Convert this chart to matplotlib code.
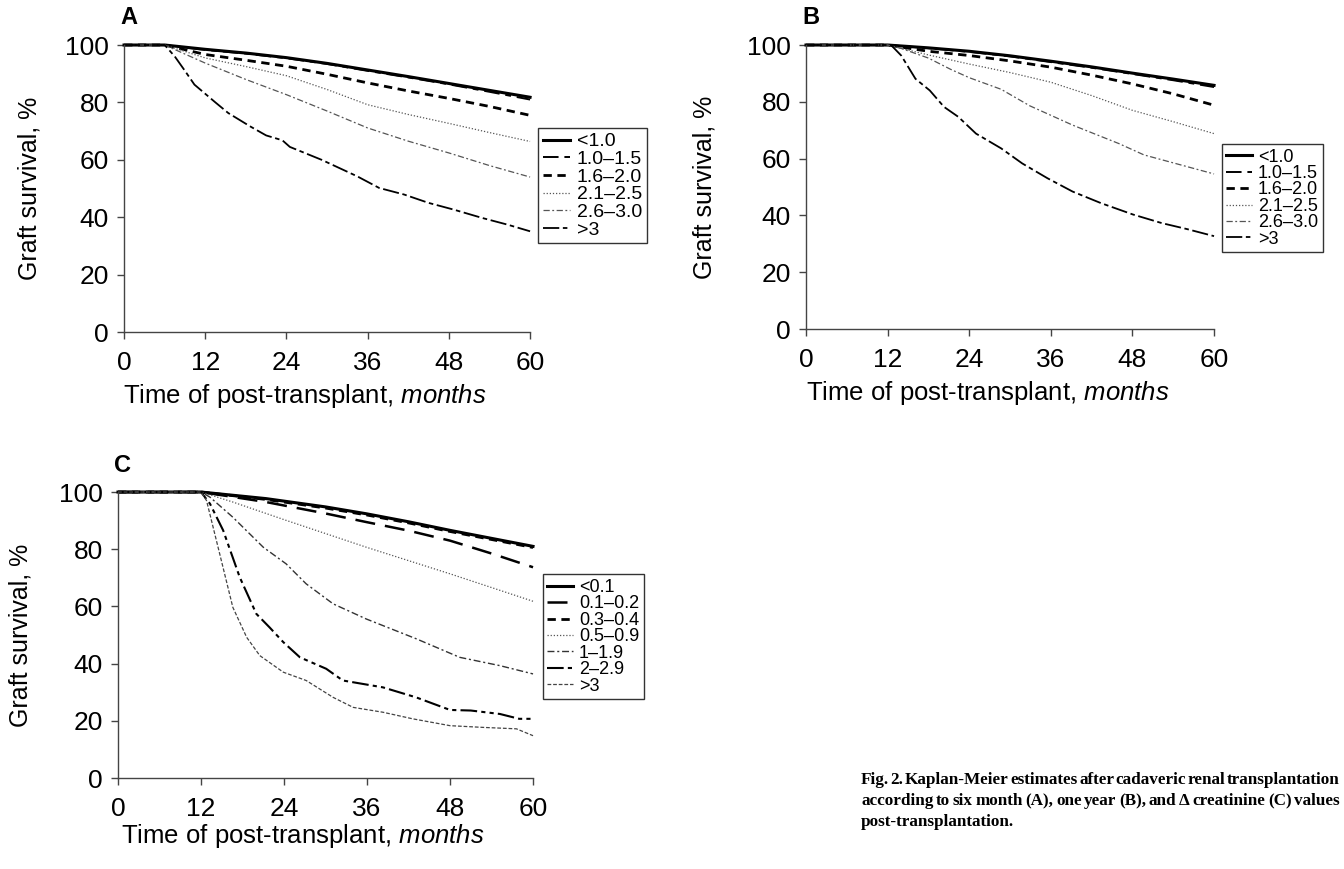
import matplotlib
matplotlib.use('Agg')
import matplotlib.pyplot as plt

plt.rcParams['font.family'] = ['Liberation Sans', 'DejaVu Sans']
plt.rcParams['mathtext.fontset'] = 'custom'
plt.rcParams['mathtext.rm'] = 'Liberation Sans'
plt.rcParams['mathtext.it'] = 'Liberation Sans:italic'

# ---- Panel A: six month creatinine ----
labels_a = ['<1.0', '1.0\u20131.5', '1.6\u20132.0', '2.1\u20132.5', '2.6\u20133.0', '>3']
t_a = [0, 6, 12, 18, 24, 30, 36, 42, 48, 54, 60]
a_lt10 = [100, 100, 98.5, 97.2, 95.6, 93.6, 91.3, 89.0, 86.6, 84.2, 81.8]
a_10_15 = [100, 100, 98.3, 97.0, 95.4, 93.4, 91.0, 88.7, 86.3, 83.7, 81.0]
a_16_20 = [100, 100, 96.7, 94.7, 92.6, 89.8, 86.8, 84.0, 81.4, 78.6, 75.5]
a_21_25 = [100, 100, 95.5, 92.5, 89.3, 84.5, 79.2, 75.8, 72.7, 69.5, 66.4]
a_26_30 = [100, 100, 93.7, 88.0, 82.7, 77.0, 71.1, 66.5, 62.4, 58.0, 54.0]
t_a_gt3 = [0, 6, 7.5, 9, 10.4, 12, 13.5, 15.4, 18.6, 21, 23.4, 24.5, 29.2, 34.5, 37.7,
           41.4, 45, 48.8, 53, 56.7, 60]
a_gt3 = [100, 100, 96, 91, 86.2, 83, 80, 76.3, 71.7, 68.5, 66.8, 64.5, 60, 54.2, 50.2,
         47.9, 45, 42.6, 39.7, 37.4, 35.1]

# ---- Panel B: one year creatinine ----
labels_b = labels_a
t_b = [0, 12, 18, 24, 30, 36, 42, 48, 54, 60]
b_lt10 = [100, 100, 99.0, 97.8, 96.2, 94.3, 92.3, 90.1, 88.0, 85.8]
b_10_15 = [100, 100, 98.9, 97.6, 96.0, 94.0, 92.0, 89.8, 87.6, 85.2]
b_16_20 = [100, 100, 97.8, 96.3, 94.4, 92.2, 89.4, 86.3, 82.8, 78.8]
b_21_25 = [100, 100, 96.5, 93.3, 90.3, 86.9, 82.2, 77.0, 73.0, 68.8]
t_b_26_30 = [0, 12, 14, 18, 21.3, 24, 28.7, 32.9, 39.2, 46, 49.7, 54, 60]
b_26_30 = [100, 100, 98.8, 95.4, 91.4, 88.5, 84.4, 78.6, 71.8, 65.3, 61.3, 58.5, 54.6]
t_b_gt3 = [0, 12.5, 14, 16.1, 18.2, 20.3, 22.4, 25, 28.7, 31.8, 35.5, 39.2, 43.4, 48.1,
           52.3, 56, 60]
b_gt3 = [100, 100, 96.3, 88.1, 84, 78.2, 74.7, 68.8, 63.6, 58.3, 53.1, 48.4, 44.3, 40.3,
         37.3, 35.2, 32.7]

# ---- Panel C: delta creatinine ----
labels_c = ['<0.1', '0.1\u20130.2', '0.3\u20130.4', '0.5\u20130.9', '1\u20131.9', '2\u20132.9', '>3']
t_c = [0, 12, 21.4, 30, 35.9, 42, 48, 54, 60]
c_lt01 = [100, 100, 97.7, 94.8, 92.4, 89.6, 86.6, 83.8, 81.0]
c_01_02 = [100, 100, 96.5, 92.5, 89.5, 86.5, 83.0, 78.5, 73.7]
c_03_04 = [100, 100, 97.4, 94.4, 92.0, 89.2, 86.2, 83.4, 80.6]
t_c_05 = [0, 12, 16.6, 24.3, 35.9, 48, 60]
c_05_09 = [100, 100, 96.5, 90.1, 80.7, 71.4, 61.8]
t_c_1 = [0, 12, 13.3, 16.6, 21, 24.3, 27.2, 31.1, 35.9, 43.1, 49.4, 55.2, 60]
c_1_19 = [100, 100, 98.2, 91.2, 80.7, 74.9, 67.9, 60.9, 55.6, 48.7, 42.2, 39.3, 36.4]
t_c_2 = [0, 12, 13.3, 15.2, 17.6, 20, 21.9, 23.9, 26.3, 30.1, 32.5, 38.3, 43.1, 48, 51,
         55.2, 58, 60]
c_2_29 = [100, 100, 95.9, 86.6, 70.2, 57.4, 52.7, 47.5, 42.2, 38.2, 34.1, 31.7, 28.2,
          23.8, 23.6, 22.4, 20.7, 20.7]
t_c_3 = [0, 12, 12.8, 14.7, 16.6, 18.6, 20.5, 23.9, 27.2, 31.1, 34, 38.3, 42.6, 48, 52.8,
         57.6, 60]
c_gt3 = [100, 100, 97, 78.4, 59.7, 49.2, 42.8, 37, 34.1, 28.2, 24.7, 23, 20.7, 18.3,
         17.7, 17.2, 14.8]

# line styles (colour, width, dash pattern)
st_solid = dict(color='black', lw=2.2, ls='-')
st_longdash = dict(color='black', lw=1.4, ls=(0, (8, 3, 3, 3)))
st_shortdash = dict(color='black', lw=2.0, ls=(0, (3, 2)))
st_dot = dict(color='#555555', lw=0.9, ls=(0, (1, 1.5)))
st_dashdot = dict(color='#555555', lw=0.9, ls=(0, (5, 2, 1.5, 2)))
st_low = dict(color='black', lw=1.3, ls=(0, (9, 2, 2.5, 2)))
st_thindash = dict(color='#444444', lw=0.9, ls=(0, (3, 1.5)))
st_c_longdash = dict(color='black', lw=1.8, ls=(0, (8, 4)))
st_c_dashdot = dict(color='#333333', lw=1.0, ls=(0, (5, 2, 1.5, 2)))
st_c_dashdotdot = dict(color='black', lw=1.5, ls=(0, (8, 2, 2, 2, 2, 2)))

fig = plt.figure(figsize=(13.44, 8.69), dpi=100)


def style_axes(ax, ylab_x, xlab_y):
    ax.set_xlim(0, 60)
    ax.set_ylim(0, 100)
    ax.set_xticks([0, 12, 24, 36, 48, 60])
    ax.set_yticks([0, 20, 40, 60, 80, 100])
    for s in ['top', 'right']:
        ax.spines[s].set_visible(False)
    for s in ['left', 'bottom']:
        ax.spines[s].set_color('#444444')
        ax.spines[s].set_linewidth(1.0)
    ax.tick_params(direction='out', length=5, width=1, colors='#444444',
                   labelcolor='black', labelsize=19)
    ax.tick_params(axis='y', pad=6)
    ax.tick_params(axis='x', pad=9)
    ax.set_xlabel('Time of post-transplant, $\\mathit{months}$', fontsize=18.5)
    ax.xaxis.set_label_coords(0.445, xlab_y)
    ax.set_ylabel('Graft survival, %', fontsize=18)
    ax.yaxis.set_label_coords(ylab_x, 0.5)


def add_legend(ax, anchor, size, spacing):
    leg = ax.legend(loc='upper left', bbox_to_anchor=anchor,
                    bbox_transform=fig.transFigure, fontsize=size,
                    frameon=True, fancybox=False, framealpha=1,
                    edgecolor='#333333', borderpad=0.25, labelspacing=spacing,
                    handlelength=1.4, handletextpad=0.35, borderaxespad=0)
    leg.get_frame().set_linewidth(1.0)
    return leg


# Panel A
ax_a = fig.add_axes([0.0923, 0.6179, 0.3021, 0.3303])
ax_a.plot(t_a, a_lt10, label=labels_a[0], clip_on=False, **st_solid)
ax_a.plot(t_a, a_10_15, label=labels_a[1], clip_on=False, **st_longdash)
ax_a.plot(t_a, a_16_20, label=labels_a[2], clip_on=False, **st_shortdash)
ax_a.plot(t_a, a_21_25, label=labels_a[3], clip_on=False, **st_dot)
ax_a.plot(t_a, a_26_30, label=labels_a[4], clip_on=False, **st_dashdot)
ax_a.plot(t_a_gt3, a_gt3, label=labels_a[5], clip_on=False, **st_low)
style_axes(ax_a, -0.204, -0.175)
add_legend(ax_a, (0.4003, 0.8527), 14, 0.0)

# Panel B
ax_b = fig.add_axes([0.5997, 0.6214, 0.3036, 0.3268])
ax_b.plot(t_b, b_lt10, label=labels_b[0], clip_on=False, **st_solid)
ax_b.plot(t_b, b_10_15, label=labels_b[1], clip_on=False, **st_longdash)
ax_b.plot(t_b, b_16_20, label=labels_b[2], clip_on=False, **st_shortdash)
ax_b.plot(t_b, b_21_25, label=labels_b[3], clip_on=False, **st_dot)
ax_b.plot(t_b_26_30, b_26_30, label=labels_b[4], clip_on=False, **st_dashdot)
ax_b.plot(t_b_gt3, b_gt3, label=labels_b[5], clip_on=False, **st_low)
style_axes(ax_b, -0.22, -0.175)
add_legend(ax_b, (0.9092, 0.8343), 13, -0.03)

# Panel C
ax_c = fig.add_axes([0.0878, 0.1047, 0.3088, 0.3291])
ax_c.plot(t_c, c_lt01, label=labels_c[0], clip_on=False, **st_solid)
ax_c.plot(t_c, c_01_02, label=labels_c[1], clip_on=False, **st_c_longdash)
ax_c.plot(t_c, c_03_04, label=labels_c[2], clip_on=False, **st_shortdash)
ax_c.plot(t_c_05, c_05_09, label=labels_c[3], clip_on=False, **st_dot)
ax_c.plot(t_c_1, c_1_19, label=labels_c[4], clip_on=False, **st_c_dashdot)
ax_c.plot(t_c_2, c_2_29, label=labels_c[5], clip_on=False, **st_c_dashdotdot)
ax_c.plot(t_c_3, c_gt3, label=labels_c[6], clip_on=False, **st_thindash)
style_axes(ax_c, -0.205, -0.155)
add_legend(ax_c, (0.404, 0.3390), 13, -0.03)

# panel letters
fig.text(120 / 1344, 1 - 18 / 869, 'A', fontsize=17, fontweight='bold', va='center')
fig.text(802 / 1344, 1 - 18 / 869, 'B', fontsize=17, fontweight='bold', va='center')
fig.text(114 / 1344, 1 - 465 / 869, 'C', fontsize=17, fontweight='bold', va='center')

# caption, justified bold serif
caption_lines = [
    'Fig. 2. Kaplan-Meier estimates after cadaveric renal transplantation',
    'according to six month (A), one year (B), and \u0394 creatinine (C) values',
    'post-transplantation.',
]
cap_left, cap_right = 861, 1340
cap_y = [780, 801, 822]
renderer = fig.canvas.get_renderer()
for i, line in enumerate(caption_lines):
    y = 1 - cap_y[i] / 869
    words = line.split(' ')
    if i == len(caption_lines) - 1:
        fig.text(cap_left / 1344, y, line, family='Liberation Serif', fontweight='bold',
                 fontsize=12.3, va='center')
        continue
    objs = []
    widths = []
    for w in words:
        t = fig.text(0, y, w, family='Liberation Serif', fontweight='bold',
                     fontsize=12.3, va='center')
        objs.append(t)
        widths.append(t.get_window_extent(renderer).width)
    gap = (cap_right - cap_left - sum(widths)) / (len(words) - 1)
    x = cap_left
    for t, wd in zip(objs, widths):
        t.set_x(x / 1344)
        x += wd + gap

fig.savefig('out.png', dpi=100)
